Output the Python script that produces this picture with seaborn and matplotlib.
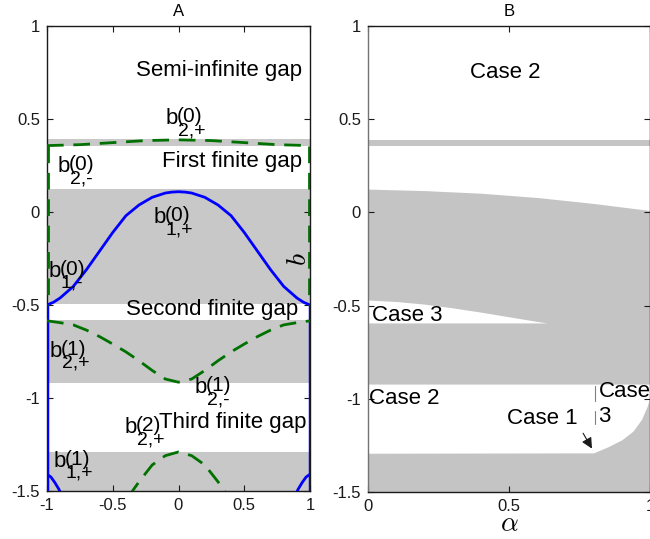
import numpy as np
import pandas as pd
import matplotlib
matplotlib.use("Agg")
import matplotlib.pyplot as plt
import seaborn as sns

sns.set_theme(style="ticks")
plt.rcParams['font.family'] = ['Liberation Sans', 'DejaVu Sans']
plt.rcParams['axes.unicode_minus'] = False
plt.rcParams['text.color'] = 'black'
plt.rcParams['axes.labelcolor'] = 'black'
plt.rcParams['xtick.color'] = 'black'
plt.rcParams['ytick.color'] = 'black'

# ---------------- Panel A data ----------------
alpha_blue = [-1.0, -0.95, -0.9, -0.8, -0.7, -0.6, -0.5, -0.4, -0.3, -0.2, -0.1, -0.05, 0.0]
b01p_half = [-0.50, -0.485, -0.462, -0.40, -0.31, -0.21, -0.11, -0.02, 0.038, 0.079, 0.102, 0.107, 0.109]
alpha_half = [-1.0, -0.9, -0.8, -0.7, -0.6, -0.5, -0.4, -0.3, -0.2, -0.1, 0.0]
b12_half = [-0.585, -0.595, -0.607, -0.635, -0.670, -0.710, -0.752, -0.800, -0.852, -0.898, -0.915]
alpha_q = [-1.0, -0.75, -0.5, -0.25, 0.0]
b02p_half = [0.357, 0.362, 0.373, 0.384, 0.388]
alpha_b22 = [-0.38, -0.3, -0.2, -0.1, 0.0]
b22_half = [-1.53, -1.45, -1.36, -1.31, -1.29]
alpha_b11 = [-1.0, -0.97, -0.94, -0.91, -0.89]
b11_half = [-1.41, -1.425, -1.455, -1.49, -1.52]

bands_A = [(0.355, 0.39), (-0.495, 0.125), (-0.92, -0.58), (-1.5, -1.29)]

xticks_A = [-1, -0.5, 0, 0.5, 1]
xtick_labels_A = ['-1', '-0.5', '0', '0.5', '1']
yticks = [-1.5, -1, -0.5, 0, 0.5, 1]
ytick_labels = ['-1.5', '-1', '-0.5', '0', '0.5', '1']

# ---------------- Panel B data ----------------
alpha_top = [0.0, 0.2, 0.4, 0.6, 0.8, 1.0]
upper_top = [0.125, 0.117, 0.103, 0.080, 0.048, 0.010]
thin_band = (0.355, 0.387)
alpha_c3 = [0.0, 0.1, 0.2, 0.3, 0.4, 0.5, 0.6, 0.635]
upper_c3 = [-0.47, -0.478, -0.492, -0.512, -0.535, -0.56, -0.585, -0.593]
lower_c3 = -0.593
alpha_c2 = [0.0, 0.8, 0.85, 0.9, 0.94, 0.97, 0.99, 1.0]
lower_c2 = [-1.292, -1.29, -1.258, -1.22, -1.173, -1.11, -1.04, -0.99]
upper_c2 = -0.921
xticks_B = [0, 0.5, 1]
xtick_labels_B = ['0', '0.5', '1']


def mirror(xs, ys):
    x = list(xs) + [-v for v in reversed(xs[:-1])]
    y = list(ys) + list(reversed(ys[:-1]))
    return x, y

fig = plt.figure(figsize=(6.5, 5.39), dpi=100)
W, H = 650, 539
ax1 = fig.add_axes([47 / W, 48 / H, 263 / W, 465 / H])
ax2 = fig.add_axes([368 / W, 47 / H, 282 / W, 466 / H])

GRAY_A = '#c8c8c8'
GRAY_B = '#c4c4c4'
BLUE = '#0000ff'
GREEN = '#007000'

# ---- Panel A ----
for lo, hi in bands_A:
    ax1.axhspan(lo, hi, color=GRAY_A, lw=0, zorder=0)

x, y = mirror(alpha_blue, b01p_half)
sns.lineplot(x=x, y=y, ax=ax1, color=BLUE, lw=2, sort=False, estimator=None)
sns.lineplot(x=[-1, -1], y=[-0.50, -1.5], ax=ax1, color=BLUE, lw=2.5, sort=False, estimator=None)
sns.lineplot(x=[1, 1], y=[-0.50, -1.5], ax=ax1, color=BLUE, lw=2.5, sort=False, estimator=None)
sns.lineplot(x=alpha_b11, y=b11_half, ax=ax1, color=BLUE, lw=2, sort=False, estimator=None)
sns.lineplot(x=[-v for v in alpha_b11], y=b11_half, ax=ax1, color=BLUE, lw=2, sort=False, estimator=None)

dash = (0, (6, 3.5))
x, y = mirror(alpha_q, b02p_half)
ax1.plot(x, y, color=GREEN, lw=2, linestyle=dash)
ax1.plot([-0.995, -0.995], [0.355, -0.5], color=GREEN, lw=2, linestyle=dash)
ax1.plot([0.995, 0.995], [0.355, -0.5], color=GREEN, lw=2, linestyle=dash)
x, y = mirror(alpha_half, b12_half)
ax1.plot(x, y, color=GREEN, lw=2, linestyle=dash)
x, y = mirror(alpha_b22, b22_half)
ax1.plot(x, y, color=GREEN, lw=2, linestyle=dash)

ax1.set_xlim(-1, 1)
ax1.set_ylim(-1.5, 1)
ax1.set_xticks(xticks_A)
ax1.set_xticklabels(xtick_labels_A)
ax1.set_yticks(yticks)
ax1.set_yticklabels(ytick_labels)
ax1.set_title('A', fontsize=12, pad=7)

FS = 16


def blab(ax, x, y, sup, sub):
    ax.text(x, y, 'b', fontsize=16, va='baseline', ha='left')
    ax.annotate(sup, xy=(x, y), xytext=(11, 2), textcoords='offset pixels',
                fontsize=15, va='baseline', ha='left')
    ax.annotate(sub, xy=(x, y), xytext=(12, -11), textcoords='offset pixels',
                fontsize=14, va='baseline', ha='left')

blab(ax1, -0.095, 0.473, '(0)', '2,+')
blab(ax1, -0.916, 0.215, '(0)', '2,-')
blab(ax1, -0.19, -0.06, '(0)', '1,+')
blab(ax1, -0.99, -0.348, '(0)', '1,-')
blab(ax1, -0.977, -0.778, '(1)', '2,+')
blab(ax1, 0.125, -0.975, '(1)', '2,-')
blab(ax1, -0.407, -1.19, '(2)', '2,+')
blab(ax1, -0.952, -1.37, '(1)', '1,+')

ax1.text(0.939, 0.731, 'Semi-infinite gap', fontsize=FS, ha='right', va='baseline')
ax1.text(0.939, 0.244, 'First finite gap', fontsize=FS, ha='right', va='baseline')
ax1.text(0.909, -0.554, 'Second finite gap', fontsize=FS, ha='right', va='baseline')
ax1.text(0.977, -1.163, 'Third finite gap', fontsize=FS, ha='right', va='baseline')

# ---- Panel B ----
ax2.axhspan(thin_band[0], thin_band[1], color=GRAY_B, lw=0, zorder=0)
ax2.fill_between(alpha_top, -1.5, upper_top, color=GRAY_B, lw=0, zorder=0)
ax2.fill_between(alpha_c3, lower_c3, upper_c3, color='white', lw=0, zorder=0.5)
ax2.fill_between(alpha_c2, lower_c2, upper_c2, color='white', lw=0, zorder=0.5)

ax2.set_xlim(0, 1)
ax2.set_ylim(-1.5, 1)
ax2.set_xticks(xticks_B)
ax2.set_xticklabels(xtick_labels_B)
ax2.set_yticks(yticks)
ax2.set_yticklabels(ytick_labels)
ax2.set_title('B', fontsize=12, pad=7)

ax2.text(0.362, 0.719, 'Case 2', fontsize=FS, ha='left', va='baseline')
ax2.text(0.013, -0.581, 'Case 3', fontsize=FS, ha='left', va='baseline')
ax2.text(0.005, -1.029, 'Case 2', fontsize=FS, ha='left', va='baseline')
ax2.text(0.492, -1.136, 'Case 1', fontsize=FS, ha='left', va='baseline')
ax2.text(0.817, -0.993, 'Case', fontsize=FS, ha='left', va='baseline')
ax2.text(0.817, -1.127, '3', fontsize=FS, ha='left', va='baseline')
ax2.plot([0.805, 0.805], [-0.93, -1.01], color='0.5', lw=0.8)
ax2.plot([0.805, 0.805], [-1.065, -1.135], color='0.5', lw=0.8)
ax2.annotate('', xy=(0.799, -1.28), xytext=(0.758, -1.172),
             arrowprops=dict(arrowstyle='-|>', color='k', lw=0.8, mutation_scale=16))

ax2.set_xlabel(r'$\alpha$', fontsize=20, math_fontfamily='cm')
ax2.xaxis.set_label_coords(0.5, -0.04)
ax2.set_ylabel(r'$b$', fontsize=20, math_fontfamily='cm')
ax2.yaxis.set_label_coords(-0.20, 0.5)

for ax in (ax1, ax2):
    ax.tick_params(direction='in', top=True, right=True, length=4, width=0.8,
                   labelsize=12, pad=5, colors='k')
    for s in ax.spines.values():
        s.set_linewidth(1.0)
        s.set_color('k')
        s.set_zorder(1.5)
ax2.spines['left'].set_color('0.45')

fig.savefig('out.png', dpi=100)
